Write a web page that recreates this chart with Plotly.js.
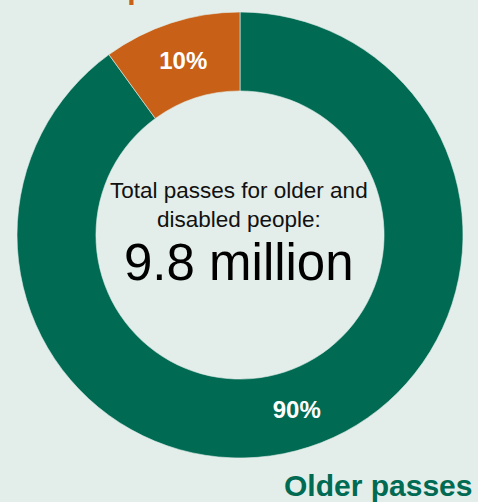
<!DOCTYPE html>
<html>
<head>
<meta charset="utf-8">
<script src="https://cdn.plot.ly/plotly-3.0.1.min.js"></script>
<style>html,body{margin:0;padding:0;background:#E3EEEA;}#chart{width:478px;height:502px;}</style>
</head>
<body>
<div id="chart"></div>
<script>
const categories = ["Older passes", "Disabled passes"];
const values = [90, 10];
const sliceColors = ["#006A53", "#C86017"];
const centerLines = ["Total passes for older and", "disabled people:"];
const centerTotal = "9.8 million";

const bg = "#E3EEEA";
const data = [{
  type: "pie",
  labels: categories,
  values: values,
  sort: false,
  direction: "clockwise",
  rotation: 0,
  hole: 0.646,
  marker: {colors: sliceColors, line: {color: bg, width: 0.6}},
  textinfo: "percent",
  texttemplate: "%{percent:.0%}",
  textposition: "inside",
  insidetextorientation: "horizontal",
  insidetextfont: {family: "Liberation Sans, Arial, sans-serif", size: 24, color: "#FFFFFF", weight: "bold"},
  hoverinfo: "none",
  showlegend: false,
  domain: {x: [17/478, 463/478], y: [(502-458)/502, (502-12)/502]}
}];

const layout = {
  width: 478, height: 502,
  margin: {l: 0, r: 0, t: 0, b: 0},
  paper_bgcolor: bg, plot_bgcolor: bg,
  showlegend: false,
  annotations: [
    {text: centerLines[0] + "<br>" + centerLines[1], xref: "paper", yref: "paper",
     x: 239/478, y: 1 - 205/502, xanchor: "center", yanchor: "middle", showarrow: false,
     align: "center",
     font: {family: "Liberation Sans, Arial, sans-serif", size: 22.5, color: "#111111"}},
    {text: centerTotal, xref: "paper", yref: "paper",
     x: 239/478, y: 1 - 262/502, xanchor: "center", yanchor: "middle", showarrow: false,
     font: {family: "Liberation Sans, Arial, sans-serif", size: 51, color: "#000000"}},
    {text: "<b>" + categories[0] + "</b>", xref: "paper", yref: "paper",
     x: 474/478, y: 1 - 485/502, xanchor: "right", yanchor: "middle", showarrow: false,
     font: {family: "Liberation Sans, Arial, sans-serif", size: 30, color: "#006A53"}},
    {text: "<b>" + categories[1] + "</b>", xref: "paper", yref: "paper",
     x: -8/478, y: 1 + 12/502, xanchor: "left", yanchor: "middle", showarrow: false,
     font: {family: "Liberation Sans, Arial, sans-serif", size: 30, color: "#C86017"}}
  ]
};

Plotly.newPlot("chart", data, layout, {displayModeBar: false, staticPlot: true});
</script>
</body>
</html>
